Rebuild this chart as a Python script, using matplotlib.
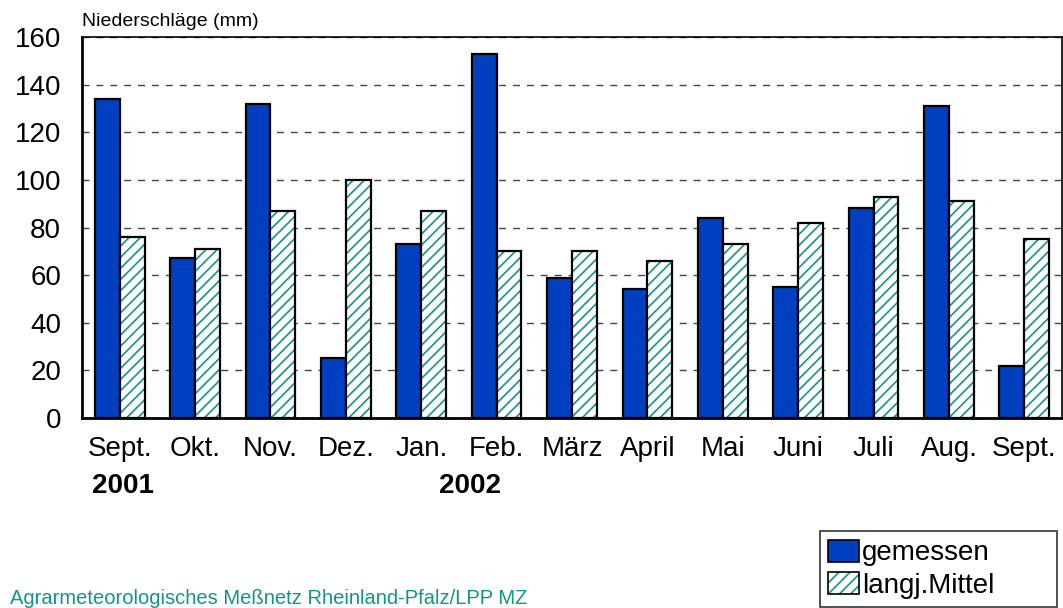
import matplotlib.pyplot as plt
from matplotlib.patches import Patch
from matplotlib.legend_handler import HandlerTuple
import numpy as np

plt.rcParams['font.family'] = ['Liberation Sans', 'DejaVu Sans']
plt.rcParams['hatch.linewidth'] = 1.2

months = ['Sept.', 'Okt.', 'Nov.', 'Dez.', 'Jan.', 'Feb.', 'März', 'April',
          'Mai', 'Juni', 'Juli', 'Aug.', 'Sept.']
gemessen = [134, 67, 132, 25, 73, 153, 59, 54, 84, 55, 88, 131, 22]
mittel = [76, 71, 87, 100, 87, 70, 70, 66, 73, 82, 93, 91, 75]
years = ['2001', '2002']
year_pos = [0.04, 4.65]

blue = '#0040c0'
teal = '#14938c'

fig = plt.figure(figsize=(10.63, 6.08), dpi=100)
ax = fig.add_axes([82 / 1063, 1 - 418 / 608, 980 / 1063, 381 / 608])

x = np.arange(len(months))
w = 0.33
ax.bar(x - w / 2, gemessen, width=w, color=blue, edgecolor='black',
       linewidth=1.6, zorder=3)
# hatch drawn in teal, outline drawn separately in black
ax.bar(x + w / 2, mittel, width=w, color='white', edgecolor=teal,
       linewidth=0, hatch='///', zorder=3)
ax.bar(x + w / 2, mittel, width=w, fill=False, edgecolor='black',
       linewidth=1.6, zorder=4)

ax.set_xlim(-0.5, len(months) - 0.5)
ax.set_ylim(0, 160)
ax.set_yticks(range(0, 161, 20))
ax.set_xticks(x)
ax.set_xticklabels(months, fontsize=20)
ax.tick_params(axis='y', labelsize=20, length=0, pad=15)
ax.tick_params(axis='x', length=0, pad=13)
ax.yaxis.grid(True, linestyle=(0, (5, 5)), color='#444444', linewidth=1, zorder=0)

for s in ['left', 'bottom']:
    ax.spines[s].set_linewidth(2)
for s in ['top', 'right']:
    ax.spines[s].set_linewidth(1.2)

for xp, yr in zip(year_pos, years):
    ax.text(xp, -28.5, yr, ha='center', va='center', fontsize=20,
            fontweight='bold', clip_on=False)

fig.text(82 / 1063, 1 - 22 / 608, 'Niederschläge (mm)', fontsize=14,
         ha='left', va='center')
fig.text(10 / 1063, 1 - 598 / 608, 'Agrarmeteorologisches Meßnetz Rheinland-Pfalz/LPP MZ',
         fontsize=14.5, color=teal, ha='left', va='center')

h1 = Patch(facecolor=blue, edgecolor='black', linewidth=1.2)
h2 = (Patch(facecolor='white', edgecolor=teal, linewidth=0, hatch='///'),
      Patch(fill=False, edgecolor='black', linewidth=1.2))
leg = fig.legend([h1, h2], ['gemessen', 'langj.Mittel'],
                 handler_map={tuple: HandlerTuple(ndivide=1)},
                 loc='lower left', mode='expand',
                 bbox_to_anchor=(820 / 1063, 1 / 608, 237 / 1063, 0.1),
                 fontsize=20, frameon=True, fancybox=False, edgecolor='black',
                 handlelength=1.1, handleheight=0.85, handletextpad=0.1,
                 borderpad=0.3, labelspacing=0.2, borderaxespad=0.0)
leg.get_frame().set_linewidth(1.2)

fig.savefig('out.png', dpi=100)
